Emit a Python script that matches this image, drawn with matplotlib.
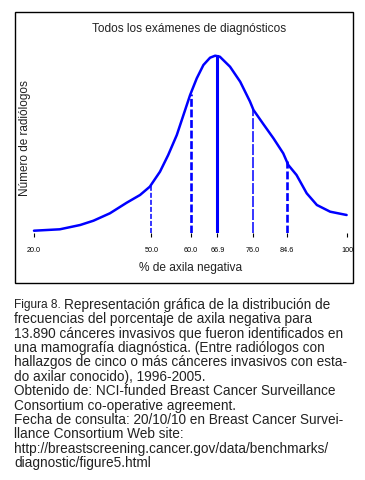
import numpy as np
import matplotlib.pyplot as plt
from matplotlib.patches import Rectangle

plt.rcParams['font.family'] = ['Liberation Sans', 'DejaVu Sans']

# frequency curve (% axila negativa vs. relative number of radiologists)
pct = [20.0, 26.6, 31.8, 35.2, 39.4, 43.7, 47.1, 49.6, 52.2, 54.3, 56.5, 58.2,
       59.9, 61.6, 63.3, 65.0, 66.3, 67.5, 70.1, 72.7, 75.2, 76.1, 78.6, 81.2,
       83.7, 85.0, 87.1, 89.7, 92.3, 95.7, 99.9]
freq = [2.6, 4.0, 8.3, 12.6, 20.0, 30.6, 38.3, 46.6, 61.6, 78.3, 98.3, 118.3,
        138.3, 155.0, 168.3, 175.6, 177.6, 176.6, 166.6, 151.6, 131.8, 123.3,
        109.3, 95.0, 80.0, 68.3, 58.3, 40.0, 28.3, 21.6, 18.3]

# percentile markers
marks = [50.0, 60.0, 66.9, 76.0, 84.6]
mark_styles = [((0, (3.3, 1.3)), 1.1), ((0, (3.0, 1.0)), 1.9), ('-', 2.2),
               ((0, (7.2, 1.3)), 1.1), ((0, (3.0, 1.1)), 1.9)]
tick_vals = [20.0, 50.0, 60.0, 66.9, 76.0, 84.6, 100.0]
tick_labels = ['20.0', '50.0', '60.0', '66.9', '76.0', '84.6', '100']

caption = [
    "Representación gráfica de la distribución de",
    "frecuencias del porcentaje de axila negativa para",
    "13.890 cánceres invasivos que fueron identificados en",
    "una mamografía diagnóstica. (Entre radiólogos con",
    "hallazgos de cinco o más cánceres invasivos con esta-",
    "do axilar conocido), 1996-2005.",
    "Obtenido de: NCI-funded Breast Cancer Surveillance",
    "Consortium co-operative agreement.",
    "Fecha de consulta: 20/10/10 en Breast Cancer Survei-",
    "llance Consortium Web site:",
    "http://breastscreening.cancer.gov/data/benchmarks/",
    "diagnostic/figure5.html",
]

fig = plt.figure(figsize=(3.65, 4.8), dpi=100)
W, H = 365, 480

# axes: x=20 -> 34px, x=100 -> 347.7px ; y=0 -> 233.3px from top
x0, x1 = 18.0, 101.0
left = 34 + (x0 - 20) * 3.9125
right = 34 + (x1 - 20) * 3.9125
ax = fig.add_axes([left / W, (H - 233.3) / H, (right - left) / W, 190 / H])
ax.set_xlim(x0, x1)
ax.set_ylim(0, 190)

ax.plot(pct, freq, color='#0000ff', lw=1.8, solid_joinstyle='round',
        solid_capstyle='round')
for m, (ls, lw) in zip(marks, mark_styles):
    top = np.interp(m, pct, freq)
    ax.plot([m, m], [0, top], color='#0000ff', ls=ls, lw=lw,
            dash_capstyle='butt')

for s in ax.spines.values():
    s.set_visible(False)
ax.set_yticks([])
ax.set_xticks(tick_vals)
ax.set_xticklabels(tick_labels, fontsize=5.2)
ax.tick_params(axis='x', length=3, width=0.8, pad=7, color='black')

fig.text(189 / W, 1 - 29 / H, "Todos los exámenes de diagnósticos",
         ha='center', va='center', fontsize=8.6, color='#222222')
fig.text(191 / W, 1 - 268 / H, "% de axila negativa", ha='center', va='center',
         fontsize=8.6, color='#222222')
fig.text(25 / W, 1 - 138.5 / H, "Número de radiólogos", ha='center', va='center',
         rotation=90, fontsize=8.5, color='#222222')

fig.patches.append(Rectangle((15 / W, 1 - 283 / H), (353 - 15) / W, (283 - 12) / H,
                             transform=fig.transFigure, fill=False, lw=1.0,
                             edgecolor='black'))

# caption
y = 305
fig.text(14 / W, 1 - y / H, "Figura 8.", fontsize=8.6, va='center', ha='left',
         color='#222222')
fig.text(64 / W, 1 - y / H, caption[0], fontsize=9.8, va='center', ha='left',
         color='#222222')
for line in caption[1:]:
    y += 14.36
    fig.text(14 / W, 1 - y / H, line, fontsize=9.8, va='center', ha='left',
             color='#222222')

fig.savefig('out.png', dpi=100)
